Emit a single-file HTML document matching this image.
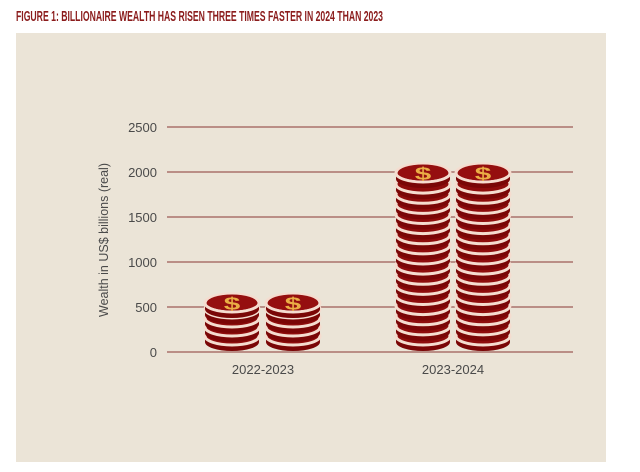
<!DOCTYPE html>
<html><head><meta charset="utf-8"><style>
html,body{margin:0;padding:0;background:#fff;}
svg{display:block;font-family:"Liberation Sans",sans-serif;}
</style></head><body>
<svg width="640" height="472" viewBox="0 0 640 472" xmlns="http://www.w3.org/2000/svg">
<defs>
<g id="L">
  <ellipse cx="0" cy="6" rx="27" ry="9" fill="#7a0606"/>
  <rect x="-27" y="0" width="54" height="6" fill="#7a0606"/>
  <ellipse cx="0" cy="0" rx="27" ry="9" fill="#8e0c0c" stroke="#f5dccf" stroke-width="3"/>
</g>
<g id="T">
  <ellipse cx="0" cy="6" rx="27" ry="9" fill="#7a0606"/>
  <rect x="-27" y="0" width="54" height="6" fill="#7a0606"/>
  <ellipse cx="0" cy="0" rx="27" ry="9" fill="#8e0c0c" stroke="#f5dccf" stroke-width="3"/>
  <ellipse cx="0" cy="-0.5" rx="25" ry="8" fill="#950f0f"/>
  <g transform="scale(1.35,0.8)">
    <text x="0" y="8" text-anchor="middle" font-size="22" font-weight="bold" fill="#eaae45">$</text>
  </g>
</g>
</defs>
<rect width="640" height="472" fill="#fff"/>
<text x="16" y="21" font-size="14.5" font-weight="bold" fill="#8b1c1c" textLength="367" lengthAdjust="spacingAndGlyphs">FIGURE 1: BILLIONAIRE WEALTH HAS RISEN THREE TIMES FASTER IN 2024 THAN 2023</text>
<rect x="16" y="33" width="590" height="429" fill="#ebe4d7"/>
<g stroke="#9c5a55" stroke-width="1.2">
<line x1="167" y1="127" x2="573" y2="127"/>
<line x1="167" y1="172" x2="573" y2="172"/>
<line x1="167" y1="217" x2="573" y2="217"/>
<line x1="167" y1="262" x2="573" y2="262"/>
<line x1="167" y1="307" x2="573" y2="307"/>
<line x1="167" y1="352" x2="573" y2="352"/>
</g>
<g font-size="13" fill="#4a4a4a" text-anchor="end">
<text x="157" y="132">2500</text>
<text x="157" y="177">2000</text>
<text x="157" y="222">1500</text>
<text x="157" y="267">1000</text>
<text x="157" y="312">500</text>
<text x="157" y="357">0</text>
</g>
<text transform="translate(108,240) rotate(-90)" text-anchor="middle" font-size="12.5" fill="#4a4a4a">Wealth in US$ billions (real)</text>
<g font-size="13" fill="#4a4a4a" text-anchor="middle">
<text x="263" y="374">2022-2023</text>
<text x="453" y="374">2023-2024</text>
</g>
<g id="s1">
<use href="#L" x="232" y="336"/><use href="#L" x="232" y="327"/><use href="#L" x="232" y="318"/><use href="#L" x="232" y="309"/><use href="#T" x="232" y="303"/>
</g>
<use href="#s1" x="61"/>
<g id="s2">
<use href="#L" x="423" y="336"/><use href="#L" x="423" y="325.9"/><use href="#L" x="423" y="315.8"/><use href="#L" x="423" y="305.6"/><use href="#L" x="423" y="295.5"/>
<use href="#L" x="423" y="285.4"/><use href="#L" x="423" y="275.3"/><use href="#L" x="423" y="265.1"/><use href="#L" x="423" y="255"/><use href="#L" x="423" y="244.9"/>
<use href="#L" x="423" y="234.8"/><use href="#L" x="423" y="224.6"/><use href="#L" x="423" y="214.5"/><use href="#L" x="423" y="204.4"/><use href="#L" x="423" y="194.3"/>
<use href="#L" x="423" y="184.1"/>
<use href="#T" x="423" y="173"/>
</g>
<use href="#s2" x="60"/>
</svg>
</body></html>
